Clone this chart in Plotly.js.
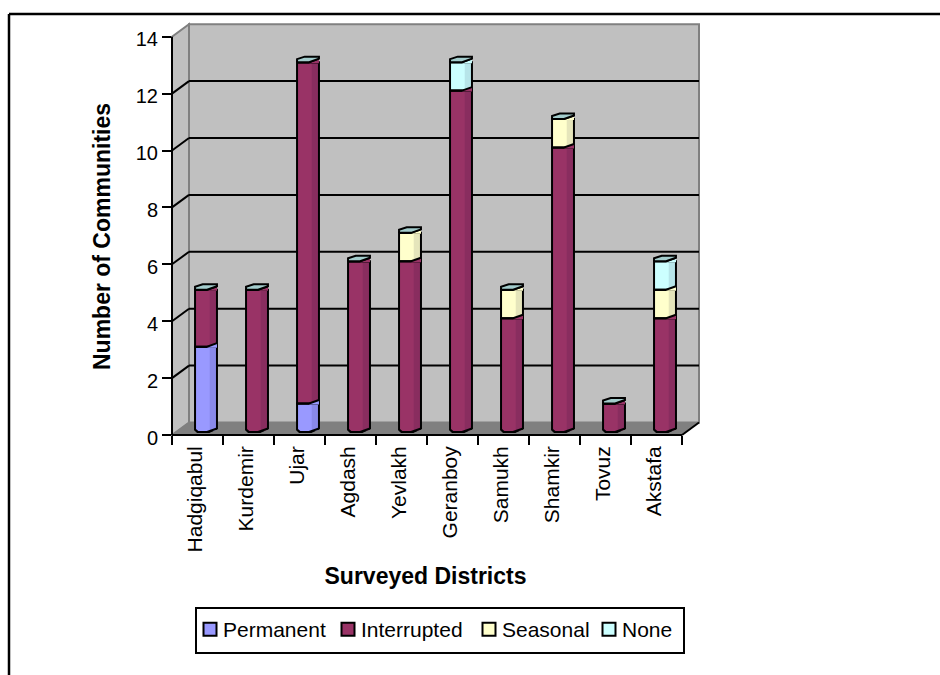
<!DOCTYPE html>
<html>
<head>
<meta charset="utf-8">
<script src="https://cdn.plot.ly/plotly-3.0.1.min.js"></script>
<style>html,body{margin:0;padding:0;background:#fff;overflow:hidden}</style>
</head>
<body>
<div id="chart" style="width:940px;height:675px"></div>
<script>
// Water supply regularity by surveyed district
const districts = ['Hadgiqabul','Kurdemir','Ujar','Agdash','Yevlakh','Geranboy','Samukh','Shamkir','Tovuz','Akstafa'];
const permanent   = [3,0,1,0,0,0,0,0,0,0];
const interrupted = [2,5,12,6,6,12,4,10,1,4];
const seasonal    = [0,0,0,0,1,0,1,1,0,1];
const none        = [0,0,0,0,0,1,0,0,0,1];
const yTicks = [0,2,4,6,8,10,12,14];

const seriesNames  = ['Permanent','Interrupted','Seasonal','None'];
const seriesValues = [permanent,interrupted,seasonal,none];
const seriesColors = ['#9999FF','#993366','#FFFFCC','#CCFFFF'];

// Plot box in pixels and the oblique depth of the pseudo-3D walls
const L = 172, T = 24, B = 435, R = 700;
const UX = 51, UY = 28.45;              // pixels per category / per unit
const DX = 17, DY = 12.5;               // wall depth
const BAR_DX = 8.5, BAR_DY = 3;         // bars stand slightly inside the floor
const BAR_W = 0.43;
const xMax = -0.5 + (R - L) / UX, yMax = (B - T) / UY;
const X = p => (p - L) / (R - L);
const Y = p => (B - p) / (B - T);
const vy = v => B - v * UY;

function poly(pts, fill, line, width) {
  const d = pts.map((p, i) => (i ? 'L' : 'M') + X(p[0]) + ',' + Y(p[1])).join(' ') + ' Z';
  return {type:'path', xref:'paper', yref:'paper', path:d, fillcolor:fill, layer:'below',
          line:{color:line, width:width}};
}
function seg(x0, y0, x1, y1, color, width) {
  return {type:'line', xref:'paper', yref:'paper', x0:X(x0), y0:Y(y0), x1:X(x1), y1:Y(y1),
          layer:'below', line:{color:color, width:width}};
}

const frontR = L + 10 * UX;
const shapes = [
  poly([[L,vy(0)],[L,vy(14)],[L+DX,vy(14)-DY],[L+DX,vy(0)-DY]], '#C0C0C0', '#808080', 2),
  poly([[L+DX,vy(14)-DY],[frontR+DX,vy(14)-DY],[frontR+DX,vy(0)-DY],[L+DX,vy(0)-DY]], '#C0C0C0', '#808080', 2),
  poly([[L,vy(0)],[L+DX,vy(0)-DY],[frontR+DX,vy(0)-DY],[frontR,vy(0)]], '#808080', '#808080', 1)
];
yTicks.filter(v => v > 0 && v < 14).forEach(v => {
  shapes.push(seg(L, vy(v), L+DX, vy(v)-DY, '#000', 2));
  shapes.push(seg(L+DX, vy(v)-DY, frontR+DX, vy(v)-DY, '#000', 2));
});
shapes.push(seg(L, vy(14), L, vy(0), '#000', 2));
shapes.push(seg(L, vy(0), frontR, vy(0), '#000', 2));
shapes.push(seg(frontR, vy(0), frontR+DX, vy(0)-DY, '#000', 2));
// Chart frame: only the top and left edges fall inside the page
shapes.push(seg(9, 14, 940, 14, '#000', 2.5));
shapes.push(seg(9, 14, 9, 675, '#000', 2.5));

const idx = districts.map((_, i) => i);
const traces = [];

// Invisible carrier for the category axis that holds the tick labels
traces.push({type:'scatter', mode:'none', x:districts, y:districts.map(() => 0),
             xaxis:'x', yaxis:'y', showlegend:false, hoverinfo:'skip'});

// Cumulative bases for the stacked columns
const bases = [];
let running = districts.map(() => 0);
seriesValues.forEach(vals => {
  bases.push(running.slice());
  running = running.map((r, i) => r + vals[i]);
});
const totals = running;

seriesValues.forEach((vals, s) => {
  traces.push({type:'bar', name:seriesNames[s], x:idx, y:vals, base:bases[s], width:BAR_W,
    xaxis:'x2', yaxis:'y2', hoverinfo:'skip',
    marker:{color:seriesColors[s], line:{color:'#000', width:2}}});
});
// Darker strip that gives the columns their rounded look
seriesValues.forEach((vals, s) => {
  traces.push({type:'bar', x:idx, y:vals, base:bases[s], width:BAR_W*0.3, offset:BAR_W*0.17,
    xaxis:'x2', yaxis:'y2', hoverinfo:'skip', showlegend:false,
    marker:{color:'rgba(0,0,40,0.10)', line:{width:0}}});
});

const px = 1/UX, py = 1/UY;
const W = BAR_W;
// Raised right-hand lip on top of each stacked segment
seriesValues.forEach((vals, s) => {
  const xs = [], ys = [];
  vals.forEach((v, i) => {
    if (!v) return;
    const t = bases[s][i] + v, l = i - W/2, r = i + W/2;
    xs.push(l+W*0.55, r, r, l+W*0.55, null);
    ys.push(t, t+3.5*py, t-1*py, t-1*py, null);
  });
  traces.push({type:'scatter', mode:'lines', x:xs, y:ys, fill:'toself', fillcolor:seriesColors[s],
    line:{width:0}, xaxis:'x2', yaxis:'y2', showlegend:false, hoverinfo:'skip', connectgaps:false});
  const lx = [], ly = [];
  vals.forEach((v, i) => {
    if (!v) return;
    const t = bases[s][i] + v, l = i - W/2, r = i + W/2;
    lx.push(l, l+W*0.55, r, null);
    ly.push(t, t, t+3.5*py, null);
  });
  traces.push({type:'scatter', mode:'lines', x:lx, y:ly, line:{color:'#000', width:2},
    xaxis:'x2', yaxis:'y2', showlegend:false, hoverinfo:'skip'});
});

// Top faces of the columns
const capX = [], capY = [];
totals.forEach((t, i) => {
  const l = i - W/2, r = i + W/2;
  capX.push(l, l+W*0.55, r, r, l+W*0.35, l, l, null);
  capY.push(t, t, t+3.5*py, t+5.5*py, t+5.5*py, t+3*py, t, null);
});
traces.push({type:'scatter', mode:'lines', x:capX, y:capY, fill:'toself', fillcolor:'#A3CCCC',
  line:{color:'#000', width:2}, xaxis:'x2', yaxis:'y2', showlegend:false, hoverinfo:'skip'});

// Cut the lower corners of the columns against the floor
const maskX = [], maskY = [], edgeX = [], edgeY = [];
totals.forEach((t, i) => {
  const l = i - W/2, r = i + W/2;
  maskX.push(l+W*0.55, r+2*px, r+2*px, l+W*0.55, null);
  maskY.push(-2*py, -2*py, 3.5*py, -2*py, null);
  maskX.push(l-2*px, l+3*px, l-2*px, null);
  maskY.push(-2*py, -2*py, 3*py, null);
  edgeX.push(l, l+3*px, l+W*0.55, r, null);
  edgeY.push(2.5*py, 0, 0, 3.5*py, null);
});
traces.push({type:'scatter', mode:'lines', x:maskX, y:maskY, fill:'toself', fillcolor:'#808080',
  line:{width:0}, xaxis:'x2', yaxis:'y2', showlegend:false, hoverinfo:'skip'});
traces.push({type:'scatter', mode:'lines', x:edgeX, y:edgeY, line:{color:'#000', width:2},
  xaxis:'x2', yaxis:'y2', showlegend:false, hoverinfo:'skip'});

const font = 'Liberation Sans, Arial, sans-serif';
const layout = {
  width:940, height:675,
  margin:{l:L, r:940-R, t:T, b:675-B, autoexpand:false},
  paper_bgcolor:'#fff', plot_bgcolor:'rgba(0,0,0,0)',
  font:{family:font, color:'#000', size:20},
  barmode:'overlay',
  showlegend:true,
  shapes:shapes,
  xaxis:{type:'category', categoryorder:'array', categoryarray:districts, range:[-0.5, xMax],
    tickson:'boundaries', ticks:'outside', ticklen:9, tickwidth:2, tickcolor:'#000', tickangle:-90,
    ticklabelstandoff:6, ticklabelshift:-2,
    tickfont:{size:21}, showgrid:false, zeroline:false, showline:false, fixedrange:true,
    title:{text:'Surveyed Districts', font:{size:23, family:font, weight:'bold'}, standoff:16}},
  yaxis:{range:[0, yMax], tickmode:'array', tickvals:yTicks, ticks:'outside', ticklen:9, tickwidth:2,
    tickcolor:'#000', tickfont:{size:20}, showgrid:false, zeroline:false, showline:false, fixedrange:true,
    title:{text:'Number of Communities', font:{size:23, family:font, weight:'bold'}, standoff:18}},
  xaxis2:{overlaying:'x', anchor:'y', type:'linear', visible:false, fixedrange:true,
    range:[-0.5-BAR_DX/UX, xMax-BAR_DX/UX]},
  yaxis2:{overlaying:'y', anchor:'x', type:'linear', visible:false, fixedrange:true,
    range:[-BAR_DY/UY, yMax-BAR_DY/UY]},
  legend:{orientation:'h', x:X(195), xanchor:'left', y:Y(607), yanchor:'top',
    bordercolor:'#000', borderwidth:2, bgcolor:'#fff', font:{size:21, family:font},
    traceorder:'normal', itemclick:false, itemdoubleclick:false}
};

// Tighten the legend rows and nudge the axis titles once everything is laid out
const legendItemX = [-12, 126, 267, 387];
const legendBox = [488, 45];
function finishLayout() {
  const leg = document.querySelector('.legend');
  const bg = leg.querySelector('rect.bg');
  bg.setAttribute('width', legendBox[0]);
  bg.setAttribute('height', legendBox[1]);
  leg.querySelector('.scrollbox').removeAttribute('clip-path');
  leg.querySelectorAll('.traces').forEach((g, i) => {
    const m = /translate\(([^,]+),\s*([^)]+)\)/.exec(g.getAttribute('transform'));
    g.setAttribute('transform', 'translate(' + legendItemX[i] + ',' + parseFloat(m[2]) + ')');
    g.querySelector('.legendsymbols').setAttribute('transform', 'translate(7,0)');
    g.querySelectorAll('.legendsymbols path').forEach(p => p.setAttribute('d', 'M6.5,6.5H-6.5V-6.5H6.5Z'));
  });
  const xt = document.querySelector('.xtitle');
  xt.setAttribute('transform', 'translate(-10.5,0) ' + (xt.getAttribute('transform') || ''));
  const yt = document.querySelector('.ytitle');
  yt.setAttribute('transform', 'translate(0,7) ' + (yt.getAttribute('transform') || ''));
  document.querySelectorAll('.ytick text').forEach(t =>
    t.setAttribute('transform', 'translate(0,2.5) ' + (t.getAttribute('transform') || '')));
}
Plotly.newPlot('chart', traces, layout, {displayModeBar:false, staticPlot:true}).then(finishLayout);
</script>
</body>
</html>
